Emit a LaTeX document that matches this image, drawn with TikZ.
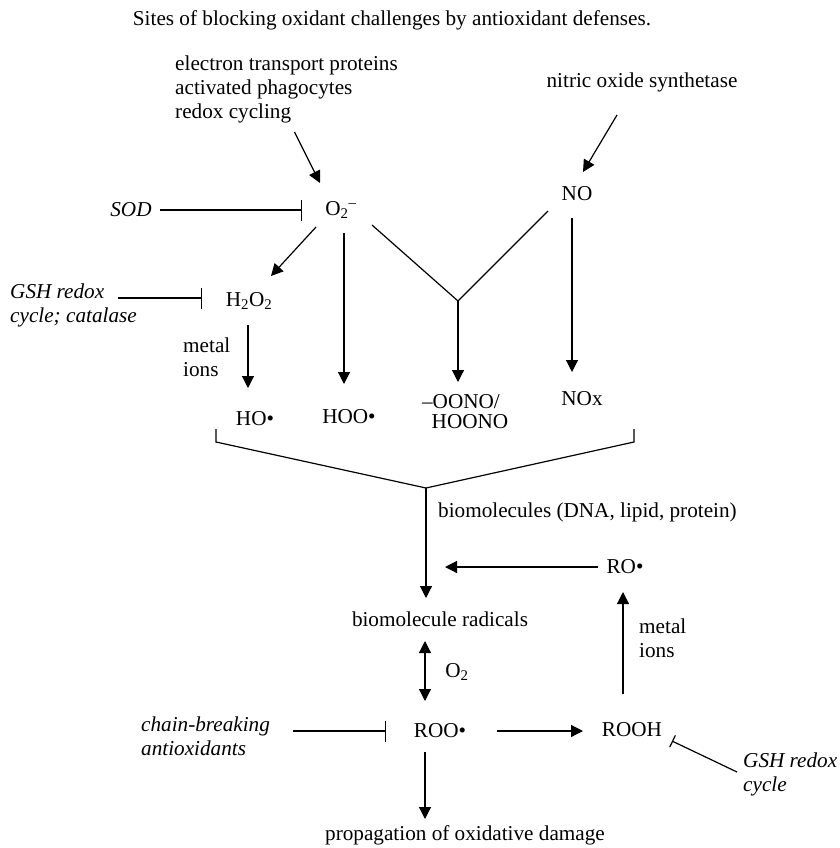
\documentclass[tikz,border=0pt]{standalone}
\usepackage{fontspec}
\setmainfont{Liberation Serif}
\usepackage{tikz}
\usetikzlibrary{arrows.meta,positioning}
\tikzset{
  txt/.style={inner sep=0pt,font=\fontsize{21.2}{24}\selectfont,align=left},
  defense/.style={txt,font=\fontsize{21.2}{24}\selectfont\itshape},
  react/.style={-{Triangle[length=12pt,width=12pt]},line width=1.2pt},
  inhib/.style={-{Bar[width=21pt]},line width=1.2pt},
  plainline/.style={line width=1.2pt}
}

\begin{document}
\begin{tikzpicture}[
  x=1pt,y=-1pt,
  biarrow/.style={{Triangle[length=12pt,width=12pt]}-{Triangle[length=12pt,width=12pt]},line width=1.2pt},
  barsmall/.style={-{Bar[width=13pt]},line width=1.2pt}
]

  \fill[white] (0,0) rectangle (839,848);
  \useasboundingbox (0,0) rectangle (839,848);

  \node[txt] (title) at (392,20)
    {Sites of blocking oxidant challenges by antioxidant defenses.};

  % sources of oxidants
  \node[txt,anchor=west] (src) at (175,89)
    {electron transport proteins\\activated phagocytes\\redox cycling};
  \node[txt] (nos) at (642,82) {nitric oxide synthetase};

  \node[defense] (sod) at (131,210) {SOD};
  \node[txt] (o2m) at (341,210) {O\textsubscript{2}\textsuperscript{--}};
  \node[txt] (no) at (577,194) {NO};

  \node[txt] (h2o2) at (249,301) {H\textsubscript{2}O\textsubscript{2}};
  \node[defense,anchor=west] (gsh) at (10,305) {GSH redox\\cycle; catalase};
  \node[txt,anchor=west] (metalA) at (183,357) {metal\\ions};

  \node[txt] (ho) at (255,419) {HO\textbullet};
  \node[txt] (hoo) at (349,417) {HOO\textbullet};
  \node[txt] (oono) at (461,402) {--OONO/};
  \node[txt] (hoono) at (470,422) {HOONO};
  \node[txt] (nox) at (582,399) {NOx};

  \node[txt,anchor=west] (biolbl) at (438,512)
    {biomolecules (DNA, lipid, protein)};
  \node[txt] (ro) at (625,567) {RO\textbullet};
  \node[txt] (biorad) at (440,619) {biomolecule radicals};
  \node[txt,anchor=west] (metalB) at (639,638) {metal\\ions};
  \node[txt] (otwo) at (457,672) {O\textsubscript{2}};

  \node[txt] (roo) at (440,731) {ROO\textbullet};
  \node[defense,anchor=west] (chain) at (141,736)
    {chain-breaking\\antioxidants};
  \node[txt] (rooh) at (632,730) {ROOH};
  \node[defense,anchor=west] (gshb) at (743,774) {GSH redox\\cycle};
  \node[txt] (prop) at (465,835) {propagation of oxidative damage};

  \coordinate (vJoin) at (458,301);
  \coordinate (brL) at (216,429);
  \coordinate (brR) at (634,429);
  \coordinate (brJoin) at (426,488);

  % formation of O2- and NO
  \draw[react] ([shift={(8,43)}]src.center) -- ([shift={(-21,-27)}]o2m.center);
  \draw[react] ([shift={(-25,33)}]nos.center) -- ([shift={(6,-22)}]no.center);
  \draw[inhib] ([shift={(29,0)}]sod.center) -- ([shift={(-39,0)}]o2m.center);

  \draw[react] ([shift={(-25,17)}]o2m.center) -- ([shift={(22,-25)}]h2o2.center);
  \draw[inhib] ([shift={(108,-7)}]gsh.west) -- ([shift={(-47,-3)}]h2o2.center);
  \draw[react] ([shift={(-1,24)}]h2o2.center) -- ([shift={(-7,-31)}]ho.center);
  \draw[react] ([shift={(3,23)}]o2m.center) -- ([shift={(-5,-33)}]hoo.center);

  \draw[plainline] ([shift={(31,15)}]o2m.center) -- (vJoin)
    -- ([shift={(-29,17)}]no.center);
  \draw[react] (vJoin) -- ([shift={(-3,-20)}]oono.center);
  \draw[react] ([shift={(-5,24)}]no.center) -- ([shift={(-10,-27)}]nox.center);

  % attack on biomolecules
  \draw[plainline] (brL) -- (216,442) -- (brJoin) -- (634,442) -- (brR);
  \draw[react] (brJoin) -- ([shift={(-14,-21)}]biorad.center);
  \draw[react] ([shift={(-27,0)}]ro.center) -- ([shift={(-180,0)}]ro.center);
  \draw[react] ([shift={(-9,-36)}]rooh.center) -- ([shift={(-2,25)}]ro.center);
  \draw[biarrow] ([shift={(-15,22)}]biorad.center) -- ([shift={(-15,-30)}]roo.center);

  \draw[inhib] ([shift={(152,-5)}]chain.west) -- ([shift={(-54,0)}]roo.center);
  \draw[react] ([shift={(57,0)}]roo.center) -- ([shift={(-49,1)}]rooh.center);
  \draw[barsmall] ([shift={(-6,-2)}]gshb.west) -- ([shift={(40,11)}]rooh.center);
  \draw[react] ([shift={(-15,21)}]roo.center) -- ([shift={(-40,-16)}]prop.center);

\end{tikzpicture}
\end{document}
